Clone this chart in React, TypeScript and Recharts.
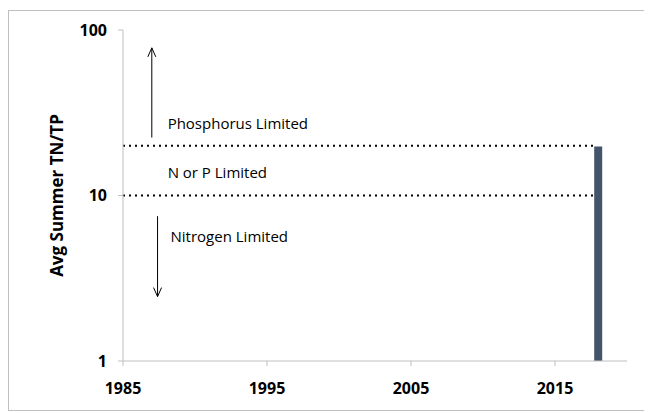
import {
    ComposedChart,
    XAxis,
    YAxis,
    Bar,
    ReferenceLine,
    ReferenceDot
} from "recharts";

// measured TN/TP ratio (only one year so far)
const years = [2018];
const tnTpValues = [19.8];

const yearTicks = [1985, 1995, 2005, 2015];
const ratioTicks = [1, 10, 100];

// limitation thresholds
const pLimitThreshold = 20;
const nLimitThreshold = 10;

// annotation arrows: [year, from, to]
const arrowYears = [1987, 1987.4];
const arrowFrom = [22.4, 7.5];
const arrowTo = [78, 2.45];

const noteTexts = ["Phosphorus Limited", "N or P Limited", "Nitrogen Limited"];
const noteYears = [1988.1, 1988.1, 1988.3];
const noteValues = [27.5, 13.8, 5.7];

const chartData = years.map((year, i) => ({ year, ratio: tnTpValues[i] }));

const FONT = "'Open Sans', sans-serif";

function Arrow(props: any) {
    const { x1, y1, x2, y2 } = props;
    const dir = y2 < y1 ? 1 : -1;
    return (
        <g>
            <line x1={x1} y1={y1} x2={x2} y2={y2} stroke="#000" strokeWidth={1} />
            <path d={`M${x2 - 4},${y2 + dir * 9} L${x2},${y2} L${x2 + 4},${y2 + dir * 9}`}
                fill="none" stroke="#000" strokeWidth={1} />
        </g>
    );
}

function YTitle(props: any) {
    const { viewBox } = props;
    const cx = viewBox.x + 13;
    const cy = viewBox.y + viewBox.height / 2;
    return (
        <text x={cx} y={cy} transform={`rotate(-90 ${cx} ${cy})`} textAnchor="middle"
            dominantBaseline="central" fontFamily={FONT} fontWeight={700} fontSize={17} fill="#000">
            Avg Summer TN/TP
        </text>
    );
}

function App() {
    return (
        <div style={{ width: 640, height: 401, marginTop: 2, border: "1px solid #bfbfbf", boxSizing: "border-box" }}>
            <ComposedChart width={638} height={399} data={chartData}
                margin={{ top: 19, right: 20, bottom: 19, left: 34 }}>
                <XAxis dataKey="year" type="number" domain={[1985, 2020]} ticks={yearTicks}
                    allowDataOverflow
                    stroke="#bfbfbf" tickSize={5}
                    tick={{ fill: "#000", fontFamily: FONT, fontWeight: 700, fontSize: 16, dy: 15 }} />
                <YAxis type="number" scale="log" domain={[1, 100]} ticks={ratioTicks}
                    allowDataOverflow width={80}
                    stroke="#bfbfbf" tickSize={5}
                    tick={{ fill: "#000", fontFamily: FONT, fontWeight: 700, fontSize: 16, dx: -9 }}
                    label={<YTitle />} />

                <ReferenceLine segment={[{ x: 1985, y: pLimitThreshold }, { x: 2017.8, y: pLimitThreshold }]}
                    stroke="#000" strokeWidth={2} strokeDasharray="2 4" />
                <ReferenceLine segment={[{ x: 1985, y: nLimitThreshold }, { x: 2017.8, y: nLimitThreshold }]}
                    stroke="#000" strokeWidth={2} strokeDasharray="2 4" />

                {arrowYears.map((yr, i) => (
                    <ReferenceLine key={"a" + i}
                        segment={[{ x: yr, y: arrowFrom[i] }, { x: yr, y: arrowTo[i] }]}
                        shape={<Arrow />} />
                ))}

                {noteTexts.map((t, i) => (
                    <ReferenceDot key={"n" + i} x={noteYears[i]} y={noteValues[i]} r={0}
                        shape={(p: any) => (
                            <text x={p.cx} y={p.cy} dominantBaseline="central" fontFamily={FONT}
                                fontSize={15} fill="#000">{t}</text>
                        )} />
                ))}

                <Bar dataKey="ratio" fill="#44546A" barSize={8} isAnimationActive={false} />
            </ComposedChart>
        </div>
    );
}

export default App;
